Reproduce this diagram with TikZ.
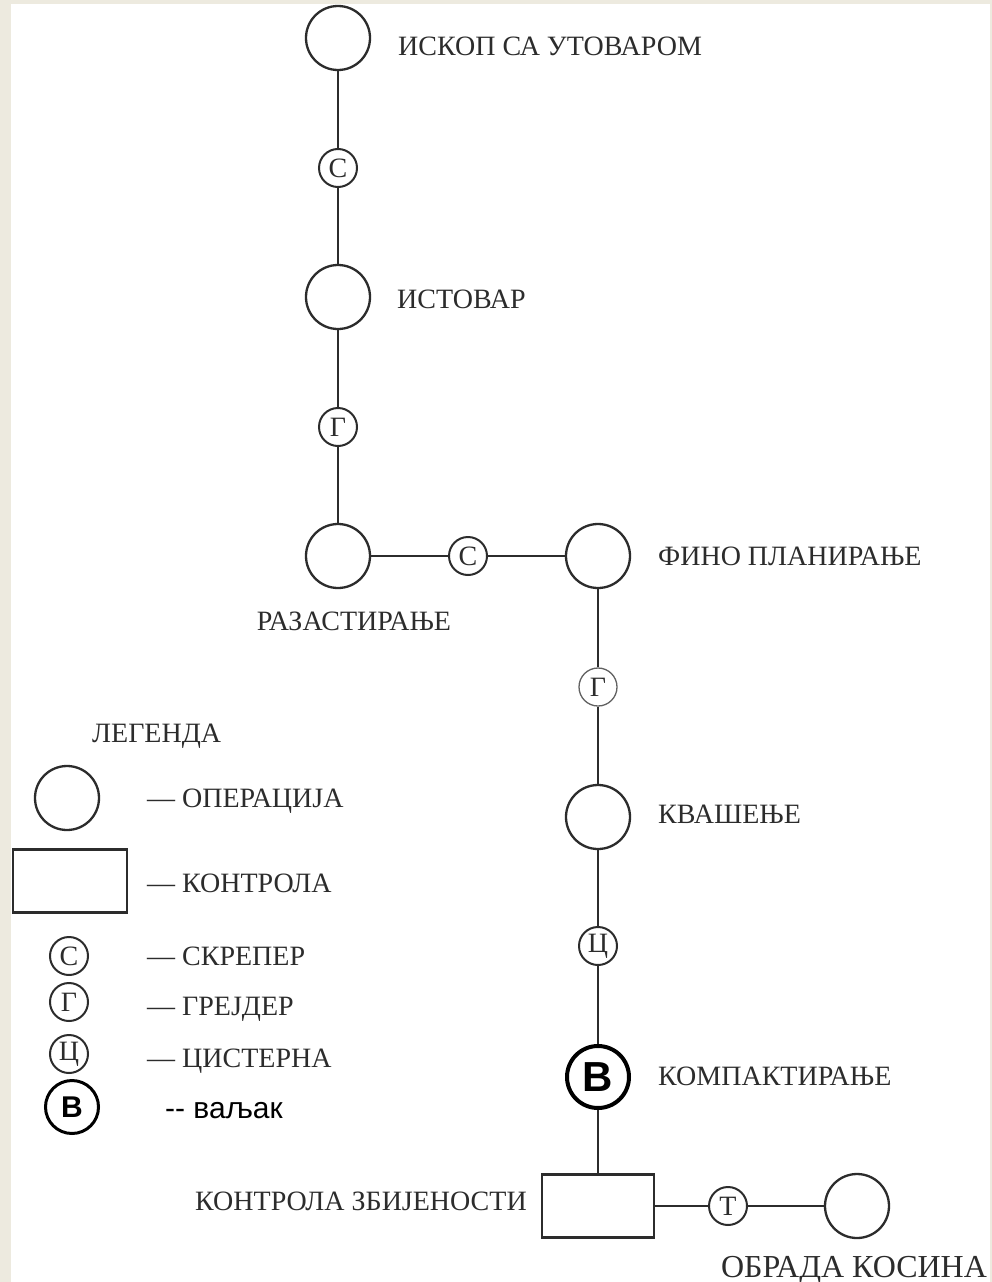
\documentclass[tikz,border=0pt]{standalone}
\usepackage{fontspec}
\setmainfont{Liberation Serif}
\newfontfamily\sansfont{Liberation Sans}
\definecolor{fond}{HTML}{EDEADF}
\definecolor{trait}{HTML}{2C2C2C}
\tikzset{
  oper/.style={circle, draw=trait, line width=2.3pt, minimum size=64pt, inner sep=0pt},
  masina/.style={circle, draw=trait, line width=2pt, minimum size=38pt, inner sep=0pt, text=trait, font=\fontsize{28}{28}\selectfont},
  kontrola/.style={draw=trait, line width=2.6pt, minimum width=112pt, minimum height=63pt, inner sep=0pt},
  valjak/.style={circle, draw=black, line width=4pt, inner sep=0pt, font=\sansfont\bfseries},
  natpis/.style={text=trait, inner sep=0pt, font=\fontsize{28}{30}\selectfont},
  veza/.style={draw=trait, line width=2pt},
}
\begin{document}
\begin{tikzpicture}[x=1pt, y=-1pt]
    \useasboundingbox (0,0) rectangle (992,1282);
    % Fond et cadre
    \fill[fond] (0,0) rectangle (992,1282);
    \fill[white] (11,4) rectangle (990,1282);

    % Operations
    \node[oper] (iskop) at (338,38) {};
    \node[oper] (istovar) at (338,297) {};
    \node[oper] (razast) at (338,556) {};
    \node[oper] (fino) at (598,556) {};
    \node[oper] (kvas) at (598,817) {};
    \node[valjak, minimum size=62pt, font=\sansfont\bfseries\fontsize{42}{42}\selectfont] (kompakt) at (598,1077) {В};
    \node[kontrola] (kontr) at (598,1206) {};
    \node[oper] (obrada) at (857,1206) {};

    % Machines sur les liaisons
    \node[masina] (m1) at (338,168) {С};
    \node[masina] (m2) at (338,427) {Г};
    \node[masina] (m3) at (468,556) {С};
    \node[masina, line width=1.3pt, draw=trait!75] (m4) at (598,687) {Г};
    \node[masina] (m5) at (598,946) {Ц};
    \node[masina] (m6) at (728,1206) {Т};

    % Liaisons
    \draw[veza] (iskop) -- (m1) -- (istovar) -- (m2) -- (razast);
    \draw[veza] (razast) -- (m3) -- (fino);
    \draw[veza] (fino) -- (m4);
    \draw[veza] (m4) -- (kvas) -- (m5) -- (kompakt) -- (kontr);
    \draw[veza] (kontr) -- (m6) -- (obrada);

    % Etiquettes des operations
    \node[natpis, anchor=base west] (t1) at (398,55) {ИСКОП СА УТОВАРОМ};
    \node[natpis, anchor=base west] (t2) at (397,308) {ИСТОВАР};
    \node[natpis, anchor=base] (t3) at (354,630) {РАЗАСТИРАЊЕ};
    \node[natpis, anchor=base west] (t4) at (658,565) {ФИНО ПЛАНИРАЊЕ};
    \node[natpis, anchor=base west] (t5) at (658,823) {КВАШЕЊЕ};
    \node[natpis, anchor=base west] (t6) at (658,1085) {КОМПАКТИРАЊЕ};
    \node[natpis, anchor=base east] (t7) at (527,1210) {КОНТРОЛА ЗБИЈЕНОСТИ};
    \node[natpis, anchor=base, font=\fontsize{32}{34}\selectfont] (t8) at (854,1277) {ОБРАДА КОСИНА};

    % Legende
    \node[natpis, anchor=base west] (leg) at (92,742) {ЛЕГЕНДА};
    \node[oper] (lop) at (67,798) {};
    \node[kontrola, minimum width=114pt, minimum height=63pt] (lkon) at (70,881) {};
    \node[masina] (lc) at (69,956) {С};
    \node[masina] (lg) at (69,1002) {Г};
    \node[masina] (lts) at (69,1054) {Ц};
    \node[valjak, line width=3pt, minimum size=53pt, font=\sansfont\bfseries\fontsize{30}{30}\selectfont] (lv) at (72,1107) {В};
    \node[natpis, anchor=base west] (lt1) at (147,807) {— ОПЕРАЦИЈА};
    \node[natpis, anchor=base west] (lt2) at (147,892) {— КОНТРОЛА};
    \node[natpis, anchor=base west] (lt3) at (147,965) {— СКРЕПЕР};
    \node[natpis, anchor=base west] (lt4) at (147,1015) {— ГРЕЈДЕР};
    \node[natpis, anchor=base west] (lt5) at (147,1067) {— ЦИСТЕРНА};
    \node[inner sep=0pt, anchor=base west, font=\sansfont\fontsize{30}{30}\selectfont] (lt6) at (165,1118) {-- ваљак};
\end{tikzpicture}
\end{document}
